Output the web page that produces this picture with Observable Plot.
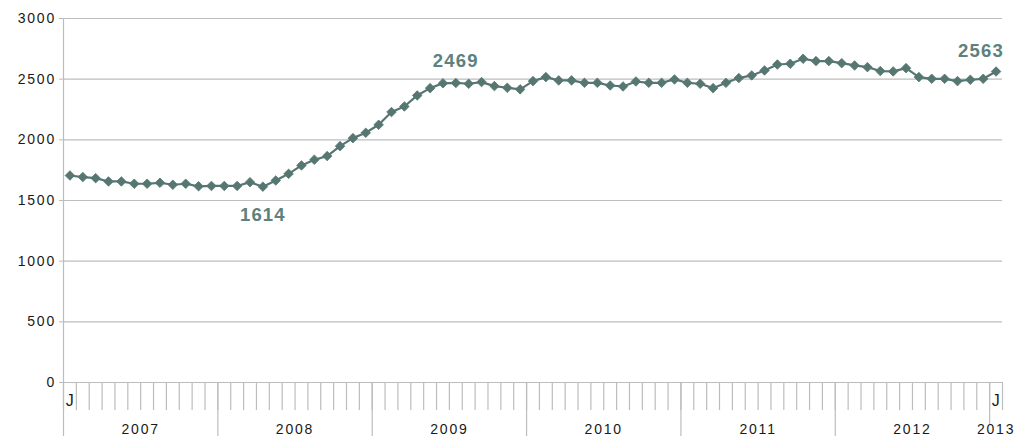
<!DOCTYPE html>
<html>
<head>
<meta charset="utf-8">
<script src="https://cdn.jsdelivr.net/npm/d3@7"></script>
<script src="https://cdn.jsdelivr.net/npm/@observablehq/plot@0.6"></script>
<style>
  body { margin: 0; background: #fff; }
  #chart svg { display: block; }
  #chart svg g[aria-label="y-axis tick label"] text,
  #chart svg g[aria-label="x-axis tick label"] text { letter-spacing: 1.8px; }
  #chart svg g[aria-label="text"] text { letter-spacing: 1.2px; }
</style>
</head>
<body>
<div id="chart"></div>
<script>
// Monthly values, Jan 2007 .. Jan 2013
const months = d3.range(73);
const values = [
  1706, 1693, 1684, 1657, 1657, 1638, 1638, 1646, 1630, 1638, 1617, 1620,
  1620, 1620, 1651, 1614, 1665, 1720, 1789, 1836, 1866, 1948, 2014, 2058,
  2124, 2229, 2275, 2366, 2426, 2466, 2469, 2462, 2476, 2443, 2429, 2416,
  2484, 2517, 2490, 2490, 2470, 2470, 2448, 2440, 2481, 2470, 2470, 2498,
  2470, 2462, 2426, 2470, 2509, 2531, 2572, 2621, 2627, 2668, 2649, 2649,
  2632, 2613, 2599, 2567, 2564, 2591, 2517, 2503, 2503, 2484, 2495, 2503,
  2563
];
const years = ["2007", "2008", "2009", "2010", "2011", "2012", "2013"];
const yearStarts = [0, 12, 24, 36, 48, 60];
const yearCenters = [6, 18, 30, 42, 54, 66, 72.5];
const monthLabels = ["J", "J"];
const monthLabelPos = [0.55, 72.55];
const annotated = [15, 30, 72];
const yTicks = [0, 500, 1000, 1500, 2000, 2500, 3000];

const data = months.map((m, i) => ({x: m + 0.5, y: values[i]}));
const labels = annotated.map(i => ({x: i + 0.5, y: values[i], below: i === 15, last: i === 72}));

const lineColor = "#567672";
const labelColor = "#5d817c";
const gridColor = "#bdbdbd";
const axisText = {fontSize: 14, fill: "#1a1a1a"};

const chart = Plot.plot({
  width: 1014,
  height: 436,
  marginLeft: 63,
  marginRight: 12,
  marginTop: 18,
  marginBottom: 54,
  style: {fontFamily: "'Liberation Sans', Arial, Helvetica, sans-serif", background: "#fff", overflow: "visible"},
  x: {type: "linear", domain: [0, 73], axis: null},
  y: {domain: [0, 3000], axis: null},
  marks: [
    Plot.gridY(yTicks, {stroke: gridColor, strokeOpacity: 1, strokeWidth: 1.2}),
    Plot.axisY({ticks: yTicks, label: null, tickSize: 4, tickPadding: 3.5, stroke: gridColor, strokeOpacity: 1, ...axisText, tickFormat: d => String(d)}),
    Plot.ruleX([0], {y1: 0, y2: 3000, stroke: gridColor, strokeWidth: 1.2}),
    // month ticks
    Plot.axisX({ticks: d3.range(74), label: null, tickSize: 28, tickFormat: () => "", stroke: gridColor, strokeOpacity: 1, strokeWidth: 1.2}),
    // year separators
    Plot.axisX({ticks: yearStarts, label: null, tickSize: 54, tickFormat: () => "", stroke: gridColor, strokeOpacity: 1, strokeWidth: 1.2}),
    Plot.axisX({ticks: [72], label: null, tickSize: 42, tickFormat: () => "", stroke: gridColor, strokeOpacity: 1, strokeWidth: 1.2}),
    // month letter labels
    Plot.axisX({ticks: monthLabelPos, label: null, tickSize: 0, tickPadding: 12, tickFormat: (d, i) => monthLabels[i], fontSize: 16, fill: "#1a1a1a"}),
    // year labels
    Plot.axisX({ticks: yearCenters, label: null, tickSize: 0, tickPadding: 42, tickFormat: (d, i) => years[i], ...axisText}),
    Plot.line(data, {x: "x", y: "y", stroke: lineColor, strokeWidth: 2.2}),
    Plot.dot(data, {x: "x", y: "y", symbol: "diamond2", r: 4.3, fill: lineColor, stroke: lineColor, strokeWidth: 0.8}),
    Plot.text(labels, {x: "x", y: "y", text: d => String(d.y), fill: labelColor, fontSize: 18.5, fontWeight: "bold",
      filter: d => d.below, dy: 28}),
    Plot.text(labels, {x: "x", y: "y", text: d => String(d.y), fill: labelColor, fontSize: 18.5, fontWeight: "bold",
      filter: d => !d.below && !d.last, dy: -22}),
    Plot.text(labels, {x: "x", y: "y", text: d => String(d.y), fill: labelColor, fontSize: 18.5, fontWeight: "bold",
      filter: d => d.last, dy: -20, dx: -15})
  ]
});
document.getElementById("chart").appendChild(chart);
</script>
</body>
</html>
